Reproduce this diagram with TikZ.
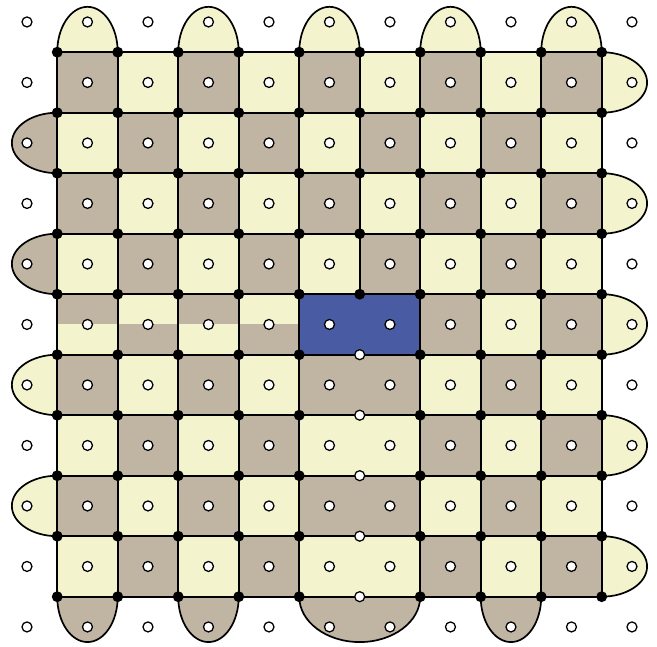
\documentclass[tikz,border=0pt]{standalone}
\usepackage{tikz}
\definecolor{tiletan}{RGB}{192,180,162}
\definecolor{tilecream}{RGB}{243,244,206}
\definecolor{tileblue}{RGB}{73,91,162}
\tikzset{
  edge/.style={draw=black, line width=0.8pt},
  site/.style={circle, draw=black, fill=white, line width=0.6pt, inner sep=0pt, minimum size=1.65mm},
  vert/.style={circle, fill=black, inner sep=0pt, minimum size=1.8mm},
}
\begin{document}
\begin{tikzpicture}[line join=round]
  \useasboundingbox (-0.446,-0.33) rectangle (10.414,10.363);
  % half tiles round the border
  \foreach \i in {1,3,5,7,9}{
    \filldraw[edge, fill=tilecream] (\i-0.5,9.5) arc[start angle=180, end angle=0, x radius=0.5, y radius=0.75] -- cycle;}
  \foreach \j/\c in {8/tiletan,6/tiletan,4/tilecream,2/tilecream}{
    \filldraw[edge, fill=\c] (0.5,\j+0.5) arc[start angle=90, end angle=270, x radius=0.75, y radius=0.5] -- cycle;}
  \foreach \j in {9,7,5,3,1}{
    \filldraw[edge, fill=tilecream] (9.5,\j-0.5) arc[start angle=-90, end angle=90, x radius=0.75, y radius=0.5] -- cycle;}
  \foreach \i in {1,3,8}{
    \filldraw[edge, fill=tiletan] (\i-0.5,0.5) arc[start angle=180, end angle=360, x radius=0.5, y radius=0.75] -- cycle;}
  \filldraw[edge, fill=tiletan] (4.5,0.5) arc[start angle=180, end angle=360, x radius=1, y radius=0.75] -- cycle;
  % checkerboard, shifted in the lower left
  \foreach \i in {1,...,9}{\foreach \j in {1,...,9}{
    \pgfmathtruncatemacro\tone{mod(\i+\j+and(\i<5,\j<5),2)}
    \ifnum\tone=0 \def\tilecol{tiletan}\else\def\tilecol{tilecream}\fi
    \filldraw[edge, fill=\tilecol] (\i-0.5,\j-0.5) rectangle ++(1,1);}}
  \foreach \i/\up/\dn in {1/tiletan/tilecream,2/tilecream/tiletan,3/tiletan/tilecream,4/tilecream/tiletan}{
    \fill[\up] (\i-0.5,5) rectangle ++(1,0.5);
    \fill[\dn] (\i-0.5,4.5) rectangle ++(1,0.5);
    \draw[edge] (\i-0.5,4.5) rectangle ++(1,1);}
  \foreach \j/\c in {1/tilecream,2/tiletan,3/tilecream,4/tiletan}{
    \filldraw[edge, fill=\c] (4.5,\j-0.5) rectangle ++(2,1);}
  \filldraw[edge, fill=tileblue] (4.5,4.5) rectangle ++(2,1);
  % sites and vertices
  \foreach \i in {0,...,10}{\foreach \j in {0,...,10}{
    \node[site] (s-\i-\j) at (\i,\j) {};}}
  \foreach \i in {0,...,9}{\foreach \j in {0,...,9}{
    \pgfmathtruncatemacro\hole{and(\i==5,\j<5)}
    \ifnum\hole=1 \def\vstyle{site}\else\def\vstyle{vert}\fi
    \node[\vstyle] (v-\i-\j) at (\i+0.5,\j+0.5) {};}}
\end{tikzpicture}
\end{document}
